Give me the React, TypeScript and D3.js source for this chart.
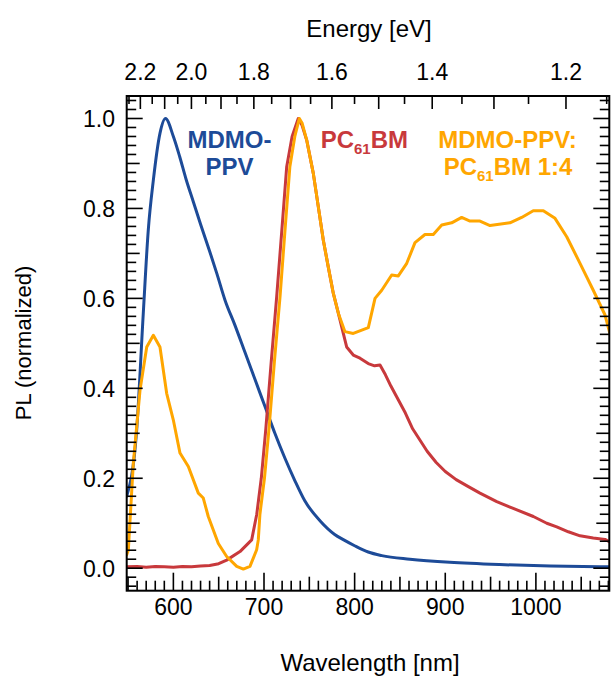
import React from "react";
import * as d3 from "d3";

// ---- Data (wavelength in nm, normalized PL) ----
const mdmoX = [548.5, 559.5, 566.8, 572.3, 577.9, 585.2, 591.3, 600, 607, 614, 622, 630, 640, 648, 657, 668, 679, 690, 701, 712, 723, 734, 745, 762, 778, 788, 800, 815, 830, 861, 905, 960, 1016, 1085];
const mdmoY = [0.16, 0.307, 0.567, 0.752, 0.863, 0.967, 1.0, 0.96, 0.915, 0.865, 0.815, 0.765, 0.705, 0.655, 0.596, 0.54, 0.48, 0.42, 0.36, 0.3, 0.245, 0.195, 0.15, 0.105, 0.075, 0.063, 0.05, 0.036, 0.028, 0.02, 0.013, 0.008, 0.005, 0.003];

const pcbmX = [548.5, 560, 570, 580, 590, 600, 610, 620, 630, 640, 650, 658.8, 673.5, 686.4, 692, 697, 702, 708, 714, 720, 725, 731, 737.8, 742, 747.1, 754.4, 759.9, 765.4, 770.9, 776.5, 782, 787.5, 791.2, 798.5, 805.9, 815, 822, 828, 834, 840, 848, 856, 864, 872, 880, 890, 900, 912, 925, 938.3, 956.8, 975, 997.2, 1012, 1023, 1035.8, 1048.7, 1063.3, 1076.3, 1083.6];
const pcbmY = [0.003, 0.004, 0.002, 0.004, 0.003, 0.002, 0.004, 0.003, 0.005, 0.006, 0.01, 0.018, 0.037, 0.063, 0.12, 0.2, 0.31, 0.46, 0.604, 0.76, 0.892, 0.96, 1.0, 0.985, 0.952, 0.878, 0.804, 0.73, 0.67, 0.611, 0.567, 0.522, 0.492, 0.474, 0.467, 0.455, 0.45, 0.452, 0.43, 0.405, 0.375, 0.345, 0.31, 0.285, 0.26, 0.235, 0.215, 0.197, 0.182, 0.167, 0.148, 0.133, 0.115, 0.1, 0.092, 0.081, 0.072, 0.067, 0.064, 0.056];

const blendX = [548.5, 550.3, 555.8, 563.2, 570.6, 577.9, 585.2, 592.6, 599.9, 607.3, 616.5, 627.5, 633, 638.5, 649.6, 658.8, 669.9, 677.2, 684.5, 691.9, 693.7, 695.5, 700.5, 705.5, 711.5, 717.7, 723.5, 728.5, 734, 739, 742, 747.1, 754.4, 759.9, 765.4, 770.9, 776.5, 782, 789.3, 798.5, 815.1, 822.5, 829.9, 840.9, 848.2, 857.5, 866.6, 877.6, 886.8, 896.1, 907.1, 918.1, 927.3, 938.3, 949.4, 971.4, 984.3, 997.1, 1008.2, 1021.1, 1034, 1048.7, 1063.3, 1076.3, 1083.6];
const blendY = [0.03, 0.04, 0.233, 0.396, 0.492, 0.518, 0.492, 0.389, 0.33, 0.256, 0.226, 0.167, 0.156, 0.115, 0.055, 0.026, 0.004, -0.002, 0.004, 0.041, 0.063, 0.12, 0.2, 0.31, 0.46, 0.604, 0.76, 0.892, 0.96, 1.0, 0.99, 0.952, 0.878, 0.804, 0.73, 0.67, 0.611, 0.567, 0.526, 0.522, 0.535, 0.6, 0.618, 0.652, 0.65, 0.678, 0.724, 0.742, 0.742, 0.763, 0.768, 0.78, 0.772, 0.772, 0.762, 0.768, 0.78, 0.795, 0.795, 0.778, 0.737, 0.678, 0.618, 0.563, 0.507];

const bottomTickLabels = [600, 700, 800, 900, 1000];
const leftTickLabels = [0.0, 0.2, 0.4, 0.6, 0.8, 1.0];
const topTickLabels = [2.2, 2.0, 1.8, 1.6, 1.4, 1.2];

const BLUE = "#1d4b98";
const RED = "#c8393c";
const ORANGE = "#ffa600";
const FONT = "'Liberation Sans', Arial, Helvetica, sans-serif";

export default function App() {
  const W = 612, H = 676;
  const L = 126.7, R = 609.3, T = 96, B = 590.7;
  const x = d3.scaleLinear().domain([548.5, 1081]).range([L, R]);
  const y = d3.scaleLinear().domain([-0.05, 1.05]).range([B, T]);

  const mk = (xs: number[], ys: number[], curve: any) =>
    d3.line<number>().x((_, i) => x(xs[i])).y((_, i) => y(ys[i])).curve(curve)(xs.map((v) => v)) || "";

  const bluePath = mk(mdmoX, mdmoY, d3.curveMonotoneX);
  const redPath = mk(pcbmX, pcbmY, d3.curveLinear);
  const orangePath = mk(blendX, blendY, d3.curveLinear);

  const bottomTicks = d3.range(550, 1081, 10);
  const yTicks = d3.range(-4, 105, 2).map((v) => v / 100);
  const eTicks = d3.range(115, 226, 5).map((v) => v / 100);
  const ex = (e: number) => x(1239.84 / e);

  return (
    <svg width={W} height={H} style={{ position: "absolute", left: 0, top: 0, background: "#fff" }} fontFamily={FONT}>
      <defs>
        <clipPath id="plotclip">
          <rect x={L} y={T} width={R - L} height={B - T} />
        </clipPath>
      </defs>
      <rect x={0} y={0} width={W} height={H} fill="#fff" />

      <g clipPath="url(#plotclip)" fill="none" strokeWidth={3} strokeLinejoin="round" strokeLinecap="round">
        <path d={bluePath} stroke={BLUE} />
        <path d={redPath} stroke={RED} />
        <path d={orangePath} stroke={ORANGE} />
      </g>

      <rect x={L} y={T} width={R - L} height={B - T} fill="none" stroke="#000" strokeWidth={2} />

      <g stroke="#000" strokeWidth={1.6}>
        {bottomTicks.map((t) => {
          const len = t % 100 === 0 ? 18 : t % 50 === 0 ? 14 : 10;
          return <line key={"b" + t} x1={x(t)} x2={x(t)} y1={B} y2={B - len} />;
        })}
        {yTicks.map((t) => {
          const k = Math.round(t * 100);
          const len = k % 20 === 0 ? 16 : k % 10 === 0 ? 13 : 9.5;
          return (
            <g key={"y" + k}>
              <line x1={L} x2={L + len} y1={y(t)} y2={y(t)} />
              <line x1={R} x2={R - len} y1={y(t)} y2={y(t)} />
            </g>
          );
        })}
        {eTicks.map((e) => {
          const k = Math.round(e * 100);
          const len = k % 10 === 0 ? 13 : 8;
          const px = ex(e);
          if (px < L || px > R) return null;
          return <line key={"e" + k} x1={px} x2={px} y1={T} y2={T + len} />;
        })}
      </g>

      <g fontSize={23} fill="#000">
        {bottomTickLabels.map((t) => (
          <text key={"bl" + t} x={x(t)} y={615} textAnchor="middle">{t}</text>
        ))}
        {leftTickLabels.map((t) => (
          <text key={"ll" + t} x={115} y={y(t) + 8.5} textAnchor="end">{t.toFixed(1)}</text>
        ))}
        {topTickLabels.map((t) => (
          <text key={"tl" + t} x={ex(t)} y={79.5} textAnchor="middle">{t.toFixed(1)}</text>
        ))}
      </g>

      <g fill="#000">
        <text x={369} y={37} fontSize={24} textAnchor="middle">Energy [eV]</text>
        <text x={370} y={671} fontSize={24} textAnchor="middle">Wavelength [nm]</text>
        <text transform="translate(31,343) rotate(-90)" fontSize={22} textAnchor="middle">PL (normalized)</text>
      </g>

      <g fontSize={24} fontWeight="bold">
        <text x={229.5} y={148} textAnchor="middle" fill={BLUE}>MDMO-</text>
        <text x={229.5} y={175} textAnchor="middle" fill={BLUE}>PPV</text>
        <text x={320.7} y={148} fill={RED}>
          PC<tspan fontSize={15} dy={5.5}>61</tspan><tspan dy={-5.5}>BM</tspan>
        </text>
        <text x={507.5} y={148} textAnchor="middle" fill={ORANGE}>MDMO-PPV:</text>
        <text x={508} y={175} textAnchor="middle" fill={ORANGE}>
          PC<tspan fontSize={15} dy={5.5}>61</tspan><tspan dy={-5.5}>BM 1:4</tspan>
        </text>
      </g>
    </svg>
  );
}
